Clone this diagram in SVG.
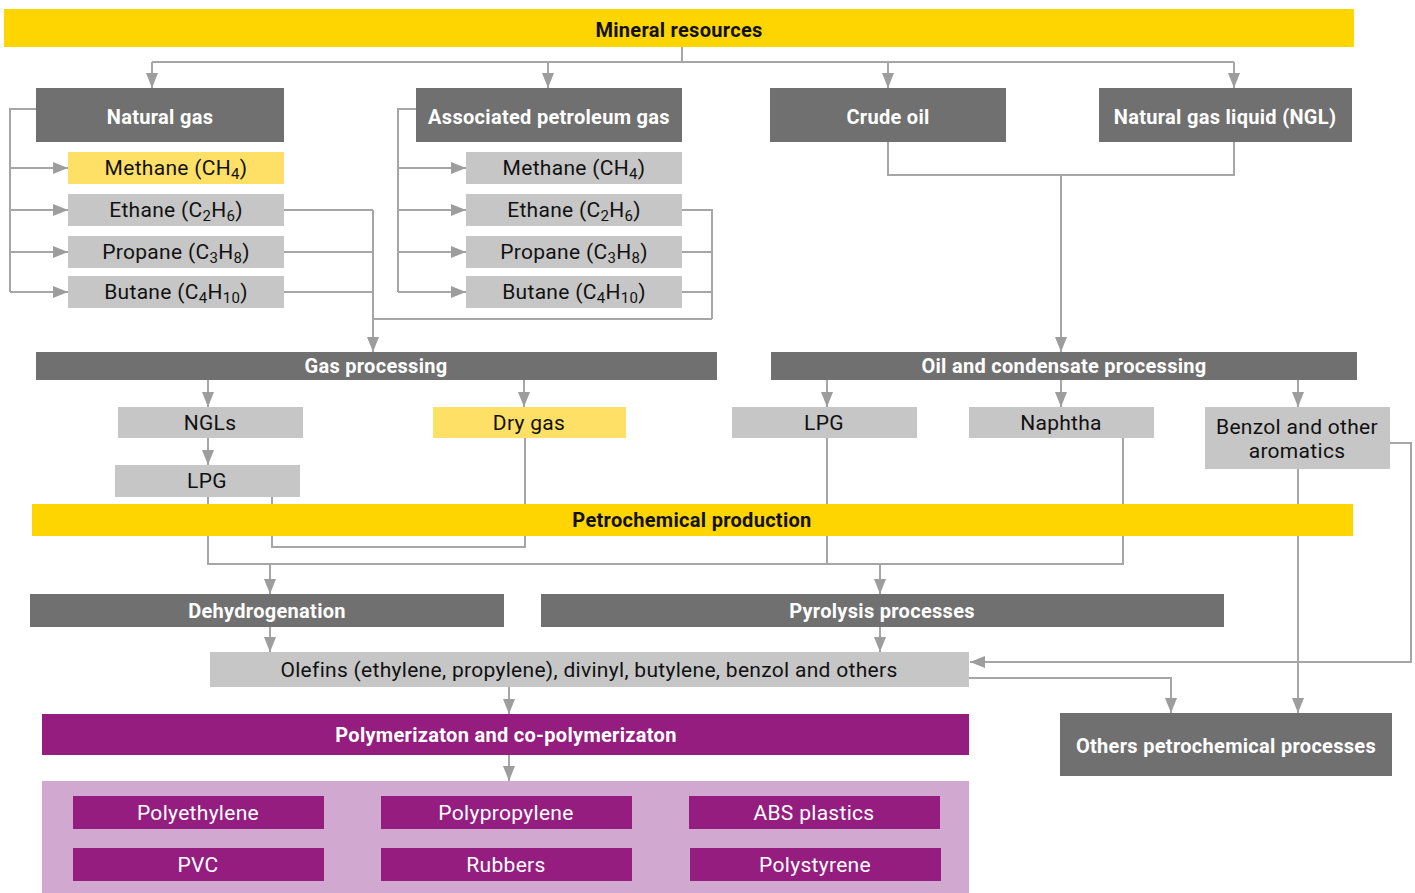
<svg xmlns="http://www.w3.org/2000/svg" width="1415" height="893" viewBox="0 0 1415 893">
<defs>
<marker id="ah" markerUnits="userSpaceOnUse" markerWidth="16" markerHeight="13" refX="15" refY="6" orient="auto">
<path d="M0,0 L15,6 L0,12 z" fill="#9d9d9d"/>
</marker>
<style>
.c{fill:none;stroke:#a6a6a6;stroke-width:2}
.a{marker-end:url(#ah)}
.dk{fill:#707070}
.lg{fill:#c6c6c6}
.yl{fill:#ffd500}
.ly{fill:#ffe066}
.pu{fill:#951d80}
.lp{fill:#d0a8d0}
text{font-family:Roboto,"Liberation Sans",sans-serif;text-anchor:middle;font-size:21px;letter-spacing:0.3px}
.b{font-weight:bold;font-size:20px}
.w{fill:#ffffff}
.k{fill:#111111}
.s{font-size:15px}
</style>
</defs>
<rect width="1415" height="893" fill="#ffffff"/>
<g id="connectors">
<path class="c" d="M682,47 V62 M152,62 H1234"/>
<path class="c a" d="M152,62 V88"/>
<path class="c a" d="M548,62 V88"/>
<path class="c a" d="M888,62 V88"/>
<path class="c a" d="M1234,62 V88"/>
<path class="c" d="M36,109 H10 V292"/>
<path class="c a" d="M10,168 H68"/>
<path class="c a" d="M10,210 H68"/>
<path class="c a" d="M10,252 H68"/>
<path class="c a" d="M10,292 H68"/>
<path class="c" d="M284,210 H373 M284,252 H373 M284,292 H373 M373,319 H712 M682,210 H712 V319 M682,252 H712 M682,292 H712"/>
<path class="c a" d="M373,210 V352"/>
<path class="c" d="M416,109 H398 V292"/>
<path class="c a" d="M398,168 H466"/>
<path class="c a" d="M398,210 H466"/>
<path class="c a" d="M398,252 H466"/>
<path class="c a" d="M398,292 H466"/>
<path class="c" d="M888,142 V175 H1234 V142"/>
<path class="c a" d="M1061,175 V352"/>
<path class="c a" d="M208,380 V407"/>
<path class="c a" d="M524,380 V407"/>
<path class="c a" d="M208,438 V465"/>
<path class="c a" d="M827,380 V407"/>
<path class="c a" d="M1061,380 V407"/>
<path class="c a" d="M1298,380 V407"/>
<path class="c" d="M208,497 V564 H1123 V438 M272,497 V547 H525 V438 M827,438 V564"/>
<path class="c a" d="M270,564 V594"/>
<path class="c a" d="M880,564 V594"/>
<path class="c a" d="M270,627 V652"/>
<path class="c a" d="M880,627 V652"/>
<path class="c a" d="M1390,443 H1411 V662 H970"/>
<path class="c a" d="M1298,469 V713"/>
<path class="c a" d="M969,678 H1171 V713"/>
<path class="c a" d="M509,687 V714"/>
<path class="c a" d="M509,755 V781"/>
</g>
<g id="mineral"><rect class="yl" x="4" y="9" width="1350" height="38"/><text class="b k" x="679" y="37">Mineral resources</text></g>
<g id="natural-gas"><rect class="dk" x="36" y="88" width="248" height="54"/><text class="b w" x="160" y="124">Natural gas</text></g>
<g id="ng-methane"><rect class="ly" x="68" y="152" width="216" height="32"/><text class="k" x="176" y="175">Methane (CH<tspan class="s" dy="4">4</tspan><tspan dy="-4">)</tspan></text></g>
<g id="ng-ethane"><rect class="lg" x="68" y="194" width="216" height="32"/><text class="k" x="176" y="217">Ethane (C<tspan class="s" dy="4">2</tspan><tspan dy="-4">H</tspan><tspan class="s" dy="4">6</tspan><tspan dy="-4">)</tspan></text></g>
<g id="ng-propane"><rect class="lg" x="68" y="236" width="216" height="32"/><text class="k" x="176" y="259">Propane (C<tspan class="s" dy="4">3</tspan><tspan dy="-4">H</tspan><tspan class="s" dy="4">8</tspan><tspan dy="-4">)</tspan></text></g>
<g id="ng-butane"><rect class="lg" x="68" y="276" width="216" height="32"/><text class="k" x="176" y="299">Butane (C<tspan class="s" dy="4">4</tspan><tspan dy="-4">H</tspan><tspan class="s" dy="4">10</tspan><tspan dy="-4">)</tspan></text></g>
<g id="apg"><rect class="dk" x="416" y="88" width="266" height="54"/><text class="b w" x="549" y="124">Associated petroleum gas</text></g>
<g id="apg-methane"><rect class="lg" x="466" y="152" width="216" height="32"/><text class="k" x="574" y="175">Methane (CH<tspan class="s" dy="4">4</tspan><tspan dy="-4">)</tspan></text></g>
<g id="apg-ethane"><rect class="lg" x="466" y="194" width="216" height="32"/><text class="k" x="574" y="217">Ethane (C<tspan class="s" dy="4">2</tspan><tspan dy="-4">H</tspan><tspan class="s" dy="4">6</tspan><tspan dy="-4">)</tspan></text></g>
<g id="apg-propane"><rect class="lg" x="466" y="236" width="216" height="32"/><text class="k" x="574" y="259">Propane (C<tspan class="s" dy="4">3</tspan><tspan dy="-4">H</tspan><tspan class="s" dy="4">8</tspan><tspan dy="-4">)</tspan></text></g>
<g id="apg-butane"><rect class="lg" x="466" y="276" width="216" height="32"/><text class="k" x="574" y="299">Butane (C<tspan class="s" dy="4">4</tspan><tspan dy="-4">H</tspan><tspan class="s" dy="4">10</tspan><tspan dy="-4">)</tspan></text></g>
<g id="crude-oil"><rect class="dk" x="770" y="88" width="236" height="54"/><text class="b w" x="888" y="124">Crude oil</text></g>
<g id="ngl"><rect class="dk" x="1099" y="88" width="253" height="54"/><text class="b w" x="1225" y="124">Natural gas liquid (NGL)</text></g>
<g id="gas-processing"><rect class="dk" x="36" y="352" width="681" height="28"/><text class="b w" x="376" y="373">Gas processing</text></g>
<g id="oil-processing"><rect class="dk" x="771" y="352" width="586" height="28"/><text class="b w" x="1064" y="373">Oil and condensate processing</text></g>
<g id="ngls"><rect class="lg" x="118" y="407" width="185" height="31"/><text class="k" x="210" y="430">NGLs</text></g>
<g id="dry-gas"><rect class="ly" x="433" y="407" width="193" height="31"/><text class="k" x="529" y="430">Dry gas</text></g>
<g id="lpg-gas"><rect class="lg" x="115" y="465" width="185" height="32"/><text class="k" x="207" y="488">LPG</text></g>
<g id="lpg-oil"><rect class="lg" x="732" y="407" width="185" height="31"/><text class="k" x="824" y="430">LPG</text></g>
<g id="naphtha"><rect class="lg" x="969" y="407" width="185" height="31"/><text class="k" x="1061" y="430">Naphtha</text></g>
<g id="benzol"><rect class="lg" x="1205" y="407" width="185" height="62"/><text class="k" x="1297" y="434">Benzol and other</text><text class="k" x="1297" y="458">aromatics</text></g>
<g id="petrochemical"><rect class="yl" x="32" y="504" width="1321" height="32"/><text class="b k" x="692" y="527">Petrochemical production</text></g>
<g id="dehydrogenation"><rect class="dk" x="30" y="594" width="474" height="33"/><text class="b w" x="267" y="618">Dehydrogenation</text></g>
<g id="pyrolysis"><rect class="dk" x="541" y="594" width="683" height="33"/><text class="b w" x="882" y="618">Pyrolysis processes</text></g>
<g id="olefins"><rect class="lg" x="210" y="652" width="759" height="35"/><text class="k" x="589" y="677">Olefins (ethylene, propylene), divinyl, butylene, benzol and others</text></g>
<g id="others"><rect class="dk" x="1060" y="713" width="332" height="63"/><text class="b w" x="1226" y="753">Others petrochemical processes</text></g>
<g id="polymerization"><rect class="pu" x="42" y="714" width="927" height="41"/><text class="b w" x="506" y="742">Polymerizaton and co-polymerizaton</text></g>
<g id="products"><rect class="lp" x="42" y="781" width="927" height="112"/></g>
<g id="polyethylene"><rect class="pu" x="73" y="796" width="251" height="33"/><text class="w" x="198" y="820">Polyethylene</text></g>
<g id="polypropylene"><rect class="pu" x="381" y="796" width="251" height="33"/><text class="w" x="506" y="820">Polypropylene</text></g>
<g id="abs"><rect class="pu" x="689" y="796" width="251" height="33"/><text class="w" x="814" y="820">ABS plastics</text></g>
<g id="pvc"><rect class="pu" x="73" y="848" width="251" height="33"/><text class="w" x="198" y="872">PVC</text></g>
<g id="rubbers"><rect class="pu" x="381" y="848" width="251" height="33"/><text class="w" x="506" y="872">Rubbers</text></g>
<g id="polystyrene"><rect class="pu" x="690" y="848" width="251" height="33"/><text class="w" x="815" y="872">Polystyrene</text></g>
</svg>
